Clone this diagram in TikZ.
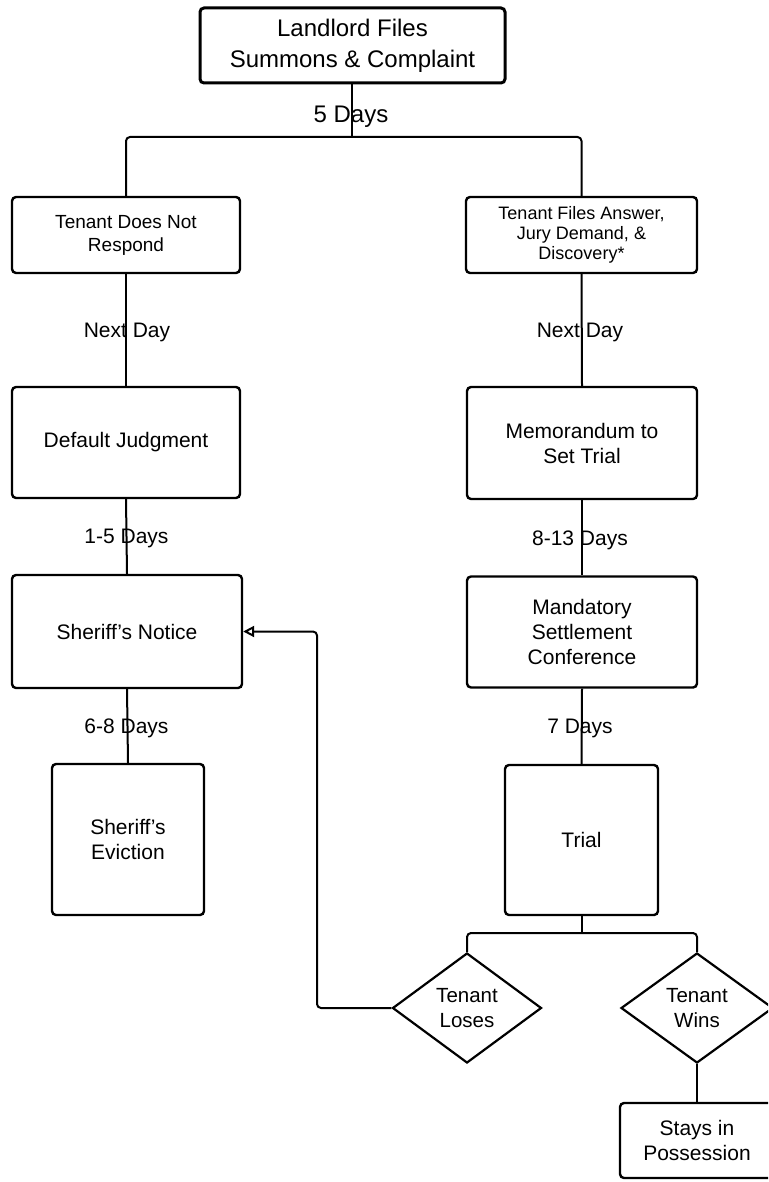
\documentclass[tikz,border=0pt]{standalone}
\usepackage{fontspec}
\setmainfont{Liberation Sans}
\usetikzlibrary{shapes.geometric,arrows.meta}
\begin{document}
\begin{tikzpicture}[x=1pt,y=-1pt,
  box/.style={draw=black,line width=2.4pt,rounded corners=4pt,inner sep=2pt,align=center,font=\fontsize{21}{25}\selectfont},
  dia/.style={draw=black,line width=2.2pt,diamond,aspect=1.35,inner sep=0pt,align=center,font=\fontsize{20.5}{25}\selectfont},
  conn/.style={line width=2pt,rounded corners=4pt},
  lab/.style={font=\fontsize{21}{25}\selectfont,inner sep=0pt}]
\useasboundingbox (0,0) rectangle (768,1182);
\clip (0,0) rectangle (768,1182);
\node[box,line width=3pt,minimum width=305pt,minimum height=75pt,font=\fontsize{24}{31}\selectfont] (top) at (352.5,45.5) {Landlord Files\\Summons \& Complaint};
\node[box,minimum width=228pt,minimum height=76pt,font=\fontsize{19}{23}\selectfont] (tdnr) at (126,235) {Tenant Does Not\\Respond};
\node[box,minimum width=231pt,minimum height=76pt,font=\fontsize{18}{20}\selectfont] (tfa) at (581.5,235) {Tenant Files Answer,\\Jury Demand, \&\\Discovery*};
\node[box,minimum width=228pt,minimum height=111pt] (dj) at (126,442.5) {Default Judgment};
\node[box,minimum width=230pt,minimum height=112pt] (mem) at (582,443) {Memorandum to\\Set Trial};
\node[box,minimum width=230pt,minimum height=113pt] (sn) at (127,631.5) {Sheriff's Notice};
\node[box,minimum width=230pt,minimum height=111pt] (msc) at (582,632) {Mandatory\\Settlement\\Conference};
\node[box,minimum width=152pt,minimum height=151pt] (se) at (128,839.5) {Sheriff's\\Eviction};
\node[box,minimum width=153pt,minimum height=150pt] (trial) at (581.5,840) {Trial};
\node[dia,minimum width=149pt,minimum height=110pt] (tl) at (467,1008) {Tenant\\Loses};
\node[dia,minimum width=152pt,minimum height=110pt] (tw) at (697,1008) {Tenant\\Wins};
\node[box,minimum width=154pt,minimum height=75pt] (sip) at (697,1140.5) {Stays in\\Possession};
% connectors
\coordinate (j1) at (352,137);
\draw[conn] (top.south -| j1) -- (j1);
\draw[conn] (tdnr.north) |- (j1) -| (tfa.north);
\node[lab,font=\fontsize{24}{28}\selectfont] (l1) at (351,117) {5 Days};
\draw[conn] (tdnr.south) -- (dj.north);
\node[lab] (l2) at (127,332) {Next Day};
\draw[conn] (tfa.south) -- (mem.north);
\node[lab] (l3) at (580,332) {Next Day};
\draw[conn] (dj.south) -- (sn.north);
\node[lab] (l4) at (126.5,538) {1-5 Days};
\draw[conn] (mem.south) -- (msc.north);
\node[lab] (l5) at (580,540) {8-13 Days};
\draw[conn] (sn.south) -- (se.north);
\node[lab] (l6) at (126.5,728) {6-8 Days};
\draw[conn] (msc.south) -- (trial.north);
\node[lab] (l7) at (580,728) {7 Days};
\coordinate (j2) at (581.5,933);
\draw[conn] (trial.south) -- (j2);
\draw[conn] (tl.north) |- (j2) -| (tw.north);
\coordinate (k1) at (317,1008);
\coordinate (k2) at (317,631.5);
\draw[conn,-{Triangle[open,length=11pt,width=11pt,line width=2pt]}] (tl.west) -- (k1) -- (k2) -- (sn.east);
\draw[conn] (tw.south) -- (sip.north);
\end{tikzpicture}
\end{document}
